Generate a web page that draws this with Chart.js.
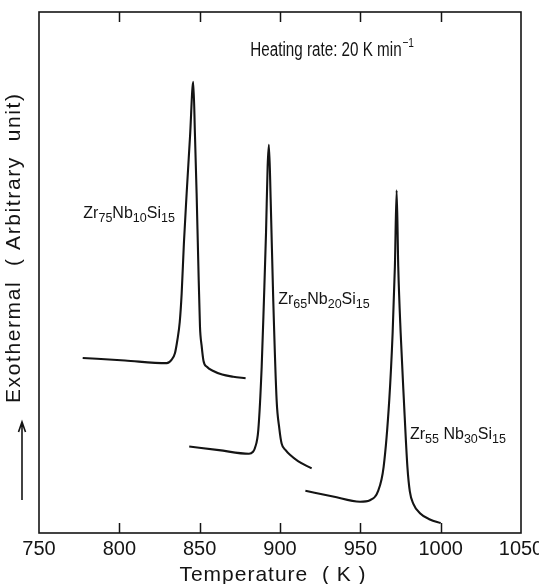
<!DOCTYPE html>
<html>
<head>
<meta charset="utf-8">
<script src="https://cdn.jsdelivr.net/npm/chart.js@4.4.1/dist/chart.umd.min.js"></script>
<style>
  html, body { margin: 0; padding: 0; background: #fff; }
  canvas { display: block; }
</style>
</head>
<body>
<canvas id="dsc" width="539" height="584"></canvas>
<script>
// ── DSC TRACES (temperature in K, exothermal signal in arbitrary units) ──

const tempA = [777.2, 803.5, 829.5, 832.6, 834.6, 836.1, 837.6, 838.8, 840.2, 841.9, 844.0, 846.0,
               847.1, 848.1, 849.1, 850.2, 851.2, 852.4, 854.5, 858.5, 864.0, 870.9, 878.6];
const heatA = [33.6, 33.1, 32.6, 33.3, 34.5, 37.0, 40.5, 46.0, 55.7, 65.2, 76.1, 86.6,
               76.1, 65.2, 52.4, 39.6, 36.0, 33.0, 31.9, 31.1, 30.4, 30.0, 29.7];

const tempB = [843.5, 862.0, 880.7, 883.2, 884.4, 886.5, 888.6, 890.0, 891.3, 892.3, 893.1,
               894.2, 895.8, 897.9, 899.6, 901.0, 903.5, 906.2, 911.2, 919.7];
const heatB = [16.6, 15.9, 15.2, 15.6, 16.3, 19.8, 31.9, 44.7, 57.6, 70.3, 74.5,
               63.9, 44.7, 25.5, 20.0, 17.2, 15.9, 15.0, 13.8, 12.4];

const tempC = [915.8, 933.0, 949.8, 956.0, 961.1, 964.5, 968.0, 970.1, 971.5, 972.6,
               973.6, 975.1, 977.1, 979.3, 980.8, 983.0, 987.1, 993.3, 1000.0];
const heatC = [8.1, 7.0, 6.0, 6.3, 8.1, 12.7, 25.5, 38.4, 51.1, 65.8,
               51.1, 38.4, 25.5, 12.7, 8.0, 5.6, 3.8, 2.6, 1.9];

const alloys = ['Zr75Nb10Si15', 'Zr65Nb20Si15', 'Zr55 Nb30Si15'];
const xTicks = [750, 800, 850, 900, 950, 1000, 1050];

// ── STYLE ──

const INK = '#141414';
const FONT = "'Liberation Sans', Arial, sans-serif";

// where each alloy name sits, in data coordinates (left edge, baseline)
const labelAt = [
  { t: 777.6, v: 60.4 },
  { t: 898.9, v: 44.0 },
  { t: 980.9, v: 18.0 }
];

const pts = (ts, hs) => ts.map((t, i) => ({ x: t, y: hs[i] }));

const trace = (ts, hs) => ({
  data: pts(ts, hs),
  showLine: true,
  borderColor: INK,
  borderWidth: 2.1,
  pointRadius: 0,
  cubicInterpolationMode: 'monotone',
  fill: false
});

// alloy names with numeric subscripts: digits go small and low
function drawFormula(ctx, str, x, y) {
  const runs = str.match(/\d+|\D+/g);
  let cx = x;
  runs.forEach(r => {
    const sub = /^\d/.test(r);
    ctx.font = (sub ? '12.5px ' : '16px ') + FONT;
    ctx.fillText(r, cx, sub ? y + 4 : y);
    cx += ctx.measureText(r).width;
  });
}

const inkPlugin = {
  id: 'ink',
  afterDraw(chart) {
    const { ctx, chartArea: a, scales: { x, y } } = chart;
    ctx.save();

    // frame
    ctx.strokeStyle = INK;
    ctx.lineWidth = 1.6;
    ctx.strokeRect(a.left, a.top, a.right - a.left, a.bottom - a.top);

    // inward ticks on top and bottom edges
    ctx.lineWidth = 1.5;
    x.ticks.forEach(tk => {
      if (tk.value <= x.min || tk.value >= x.max) return;
      const px = Math.round(x.getPixelForValue(tk.value)) + 0.5;
      ctx.beginPath();
      ctx.moveTo(px, a.bottom); ctx.lineTo(px, a.bottom - 10);
      ctx.moveTo(px, a.top); ctx.lineTo(px, a.top + 10);
      ctx.stroke();
    });

    ctx.fillStyle = INK;
    ctx.textBaseline = 'alphabetic';
    ctx.textAlign = 'left';

    // alloy names
    alloys.forEach((name, i) => {
      drawFormula(ctx, name, x.getPixelForValue(labelAt[i].t), y.getPixelForValue(labelAt[i].v));
    });

    // heating rate note, set a little condensed
    const hx = x.getPixelForValue(881.5), hy = y.getPixelForValue(91.6);
    ctx.save();
    ctx.translate(hx, hy);
    ctx.scale(0.78, 1);
    ctx.font = '19.5px ' + FONT;
    const main = 'Heating rate: 20 K min';
    ctx.fillText(main, 0, 0);
    const w = ctx.measureText(main).width;
    ctx.font = '13px ' + FONT;
    ctx.fillText('\u22121', w + 1, -9);
    ctx.restore();

    // x title
    ctx.font = '21px ' + FONT;
    ctx.letterSpacing = '1px';
    ctx.textAlign = 'center';
    ctx.fillText('Temperature  ( K )', 273, 581);

    // y title, rotated, with the exotherm arrow below it
    ctx.save();
    ctx.translate(20, 403);
    ctx.rotate(-Math.PI / 2);
    ctx.textAlign = 'left';
    ctx.font = '21px ' + FONT;
    ctx.letterSpacing = '1.6px';
    ctx.fillText('Exothermal  ( Arbitrary  unit)', 0, 0);
    ctx.restore();
    ctx.letterSpacing = '0px';

    ctx.lineWidth = 1.6;
    ctx.beginPath();
    ctx.moveTo(22, 500); ctx.lineTo(22, 423);
    ctx.moveTo(18.5, 432); ctx.lineTo(22, 422); ctx.lineTo(25.5, 432);
    ctx.stroke();

    ctx.restore();
  }
};

new Chart(document.getElementById('dsc'), {
  type: 'scatter',
  data: {
    datasets: [trace(tempA, heatA), trace(tempB, heatB), trace(tempC, heatC)]
  },
  options: {
    responsive: false,
    devicePixelRatio: 1,
    animation: false,
    events: [],
    layout: { padding: { left: 39, right: 18, top: 12, bottom: 0 } },
    plugins: { legend: { display: false }, tooltip: { enabled: false } },
    scales: {
      x: {
        type: 'linear',
        min: 750,
        max: 1050,
        afterBuildTicks: s => { s.ticks = xTicks.map(v => ({ value: v })); },
        afterFit: s => { s.height = 51; s.paddingLeft = 0; s.paddingRight = 0; },
        grid: { display: false, drawTicks: false },
        border: { display: false },
        ticks: {
          autoSkip: false,
          maxRotation: 0,
          padding: 4,
          color: INK,
          font: { family: FONT, size: 20 },
          callback: v => String(v)
        }
      },
      y: {
        display: false,
        min: 0,
        max: 100
      }
    }
  },
  plugins: [inkPlugin]
});
</script>
</body>
</html>
